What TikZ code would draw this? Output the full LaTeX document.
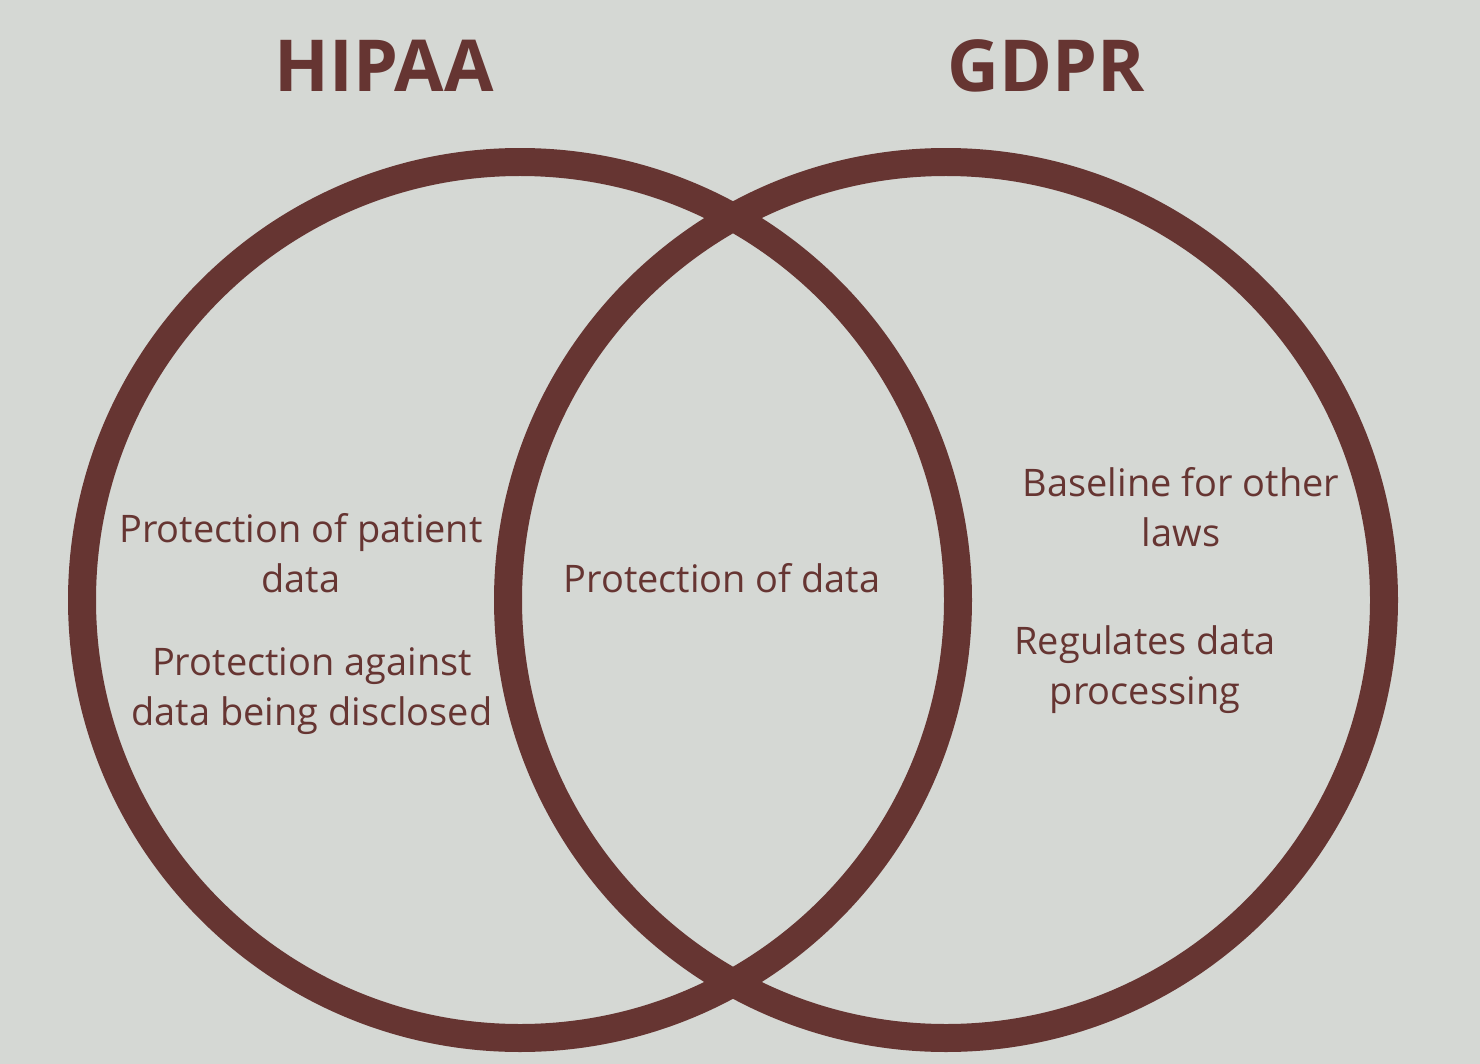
\documentclass[tikz,border=0pt]{standalone}
\usepackage{fontspec}
\setmainfont{Open Sans}
\usepackage{tikz}
\definecolor{vennbg}{HTML}{D5D8D4}
\definecolor{vennbrown}{HTML}{663532}

\begin{document}
\begin{tikzpicture}[x=0.02cm, y=-0.02cm,
    ring/.style={draw=vennbrown, line width=0.56cm},
    title/.style={text=vennbrown, font=\fontsize{40.8pt}{44pt}\selectfont\bfseries, anchor=base, inner sep=0pt},
    note/.style={text=vennbrown, font=\fontsize{21.6pt}{28.2pt}\selectfont, align=center, anchor=base, inner sep=0pt}]
        \fill[vennbg] (0,0) rectangle (1480,1064);
        \useasboundingbox (0,0) rectangle (1480,1064);

        \draw[ring] (520,600) circle[radius=438];
        \draw[ring] (946,600) circle[radius=438];

        \node[title] (hipaa) at (384,92) {HIPAA};
        \node[title] (gdpr) at (1046,92) {GDPR};

        % anchor=base sits on the last line
        \node[note] (patient) at (301,592) {Protection of patient\\data};
        \node[note] (disclosed) at (312,725) {Protection against\\data being disclosed};
        \node[note] (shared) at (722,592) {Protection of data};
        \node[note] (baseline) at (1181,546) {Baseline for other\\laws};
        \node[note] (processing) at (1145,704) {Regulates data\\processing};
    \end{tikzpicture}
\end{document}
